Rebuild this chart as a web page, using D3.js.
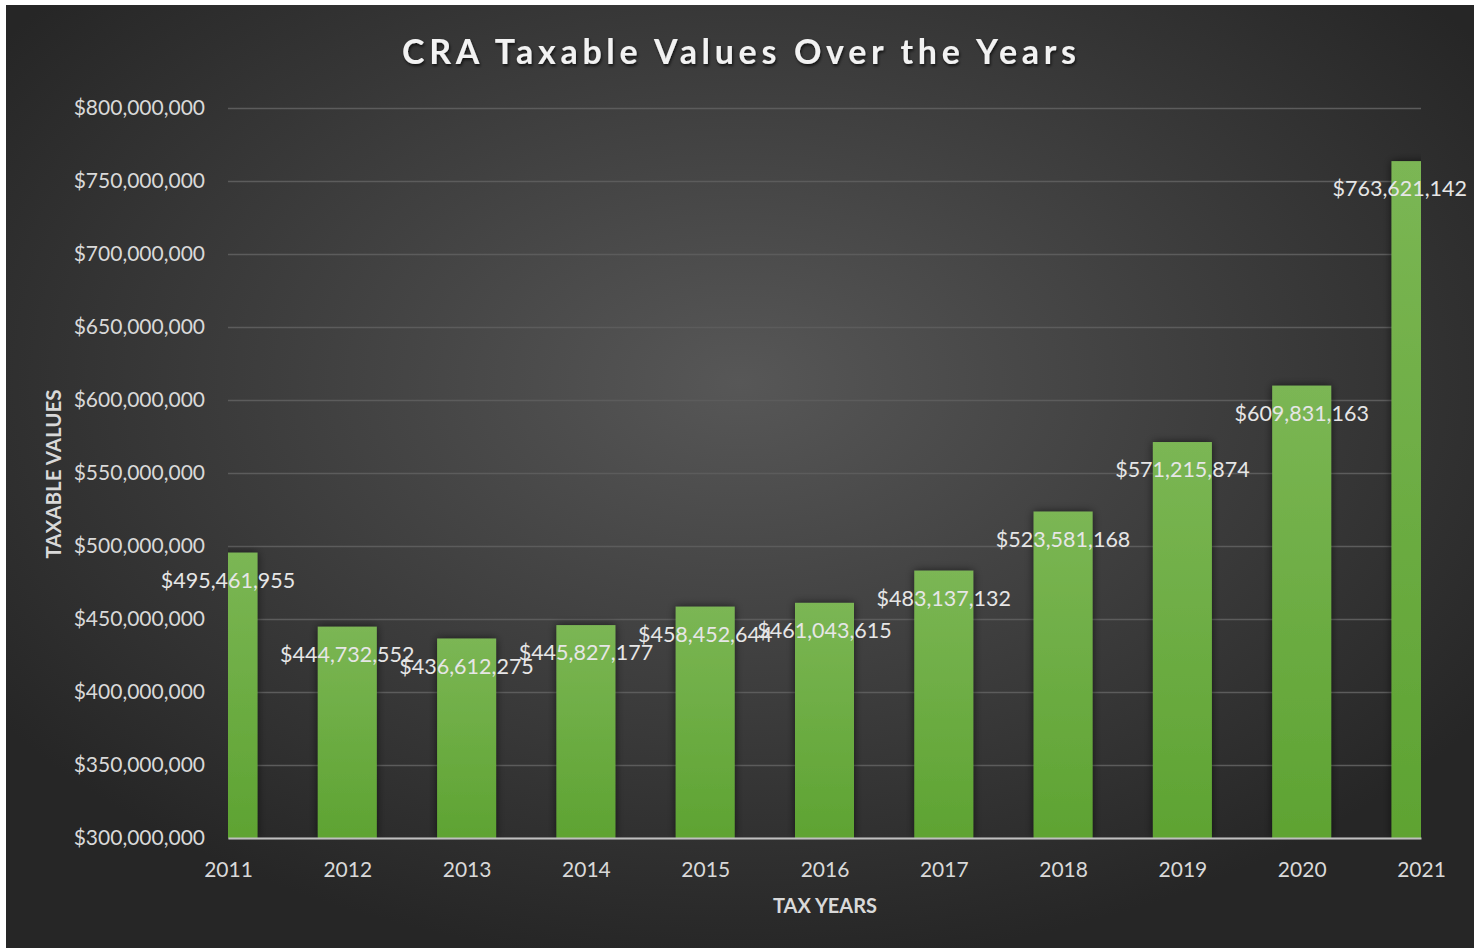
<!DOCTYPE html>
<html>
<head>
<meta charset="utf-8">
<script src="https://cdn.jsdelivr.net/npm/d3@7"></script>
<style>
  body { margin: 0; background: #fff; }
  text { font-family: Lato, "Open Sans", sans-serif; }
</style>
</head>
<body>
<svg id="chart"></svg>
<script>
// DATA
const years = [2011, 2012, 2013, 2014, 2015, 2016, 2017, 2018, 2019, 2020, 2021];
const values = [495461955, 444732552, 436612275, 445827177, 458452644, 461043615,
                483137132, 523581168, 571215874, 609831163, 763621142];
const yTicks = [300e6, 350e6, 400e6, 450e6, 500e6, 550e6, 600e6, 650e6, 700e6, 750e6, 800e6];

const data = years.map((y, i) => ({ year: y, value: values[i] }));

const W = 1483, H = 948;
const plot = { left: 228, right: 1421, top: 108, bottom: 838 };

const svg = d3.select("#chart")
  .attr("width", W)
  .attr("height", H);

const defs = svg.append("defs");

// background gradient
const bg = defs.append("radialGradient")
  .attr("id", "bg")
  .attr("cx", "0.5").attr("cy", "0.4").attr("r", "0.62");
bg.append("stop").attr("offset", "0%").attr("stop-color", "#575757");
bg.append("stop").attr("offset", "100%").attr("stop-color", "#262626");

// bar gradient
const barGrad = defs.append("linearGradient")
  .attr("id", "barGrad")
  .attr("x1", 0).attr("y1", 0).attr("x2", 0).attr("y2", 1);
barGrad.append("stop").attr("offset", "0%").attr("stop-color", "#7bb654");
barGrad.append("stop").attr("offset", "100%").attr("stop-color", "#5ea332");

const shadow = defs.append("filter").attr("id", "shadow")
  .attr("x", "-20%").attr("y", "-5%").attr("width", "140%").attr("height", "110%");
shadow.append("feDropShadow")
  .attr("dx", 0).attr("dy", 0).attr("stdDeviation", 4)
  .attr("flood-color", "#000").attr("flood-opacity", 0.6);

const titleShadow = defs.append("filter").attr("id", "tshadow");
titleShadow.append("feDropShadow")
  .attr("dx", 1).attr("dy", 2).attr("stdDeviation", 1.5)
  .attr("flood-color", "#000").attr("flood-opacity", 0.7);

defs.append("clipPath").attr("id", "plotClip")
  .append("rect")
  .attr("x", plot.left).attr("y", 0)
  .attr("width", plot.right - plot.left)
  .attr("height", plot.bottom);

svg.append("rect")
  .attr("x", 6).attr("y", 5)
  .attr("width", 1468).attr("height", H - 5)
  .attr("fill", "url(#bg)");

// SCALES
const x = d3.scaleLinear()
  .domain([2011, 2021])
  .range([plot.left, plot.right]);

const y = d3.scaleLinear()
  .domain([300e6, 800e6])
  .range([plot.bottom, plot.top]);

const fmt = d3.format("$,.0f");

// GRID + Y AXIS
const yAxis = d3.axisLeft(y)
  .tickValues(yTicks)
  .tickSize(-(plot.right - plot.left))
  .tickPadding(23)
  .tickFormat(fmt);

const gy = svg.append("g")
  .attr("transform", `translate(${plot.left},0)`)
  .call(yAxis);
gy.select(".domain").remove();
gy.selectAll(".tick line")
  .attr("stroke", "#5c5c5c")
  .attr("stroke-width", 1.5);
gy.selectAll(".tick text")
  .attr("fill", "#d9d9d9")
  .style("font-size", "21px");

// BARS
const barW = 59;
svg.append("g")
  .attr("clip-path", "url(#plotClip)")
  .selectAll("rect")
  .data(data)
  .enter()
  .append("rect")
  .attr("x", d => x(d.year) - barW / 2)
  .attr("y", d => y(d.value))
  .attr("width", barW)
  .attr("height", d => plot.bottom - y(d.value))
  .attr("fill", "url(#barGrad)")
  .attr("filter", "url(#shadow)");

// X AXIS
const xAxis = d3.axisBottom(x)
  .tickValues(years)
  .tickSize(0)
  .tickPadding(24)
  .tickFormat(d3.format("d"));

const gx = svg.append("g")
  .attr("transform", `translate(0,${plot.bottom})`)
  .call(xAxis);
gx.select(".domain")
  .attr("stroke", "#bfbfbf")
  .attr("stroke-width", 2);
gx.selectAll(".tick text")
  .attr("fill", "#d9d9d9")
  .style("font-size", "21px");

// DATA LABELS (kept inside the chart area on the right)
const labels = svg.append("g")
  .selectAll("text")
  .data(data)
  .enter()
  .append("text")
  .attr("y", d => y(d.value) + 35)
  .attr("text-anchor", "middle")
  .attr("fill", "#e6e6e6")
  .style("font-size", "21.5px")
  .text(d => fmt(d.value));

labels.attr("x", function (d) {
  const half = this.getComputedTextLength() / 2;
  return Math.min(x(d.year), 1467 - half);
});

// TITLE
svg.append("text")
  .attr("x", 739)
  .attr("y", 64)
  .attr("text-anchor", "middle")
  .attr("fill", "#f2f2f2")
  .attr("filter", "url(#tshadow)")
  .attr("textLength", 674)
  .attr("lengthAdjust", "spacing")
  .style("font-size", "34px")
  .style("font-weight", "bold")
  .text("CRA Taxable Values Over the Years");

// AXIS TITLES
svg.append("text")
  .attr("transform", "translate(61,474) rotate(-90)")
  .attr("text-anchor", "middle")
  .attr("fill", "#d9d9d9")
  .style("font-size", "20.5px")
  .style("font-weight", "bold")
  .text("TAXABLE VALUES");

svg.append("text")
  .attr("x", 825)
  .attr("y", 913)
  .attr("text-anchor", "middle")
  .attr("fill", "#d9d9d9")
  .style("font-size", "20px")
  .style("font-weight", "bold")
  .text("TAX YEARS");
</script>
</body>
</html>
